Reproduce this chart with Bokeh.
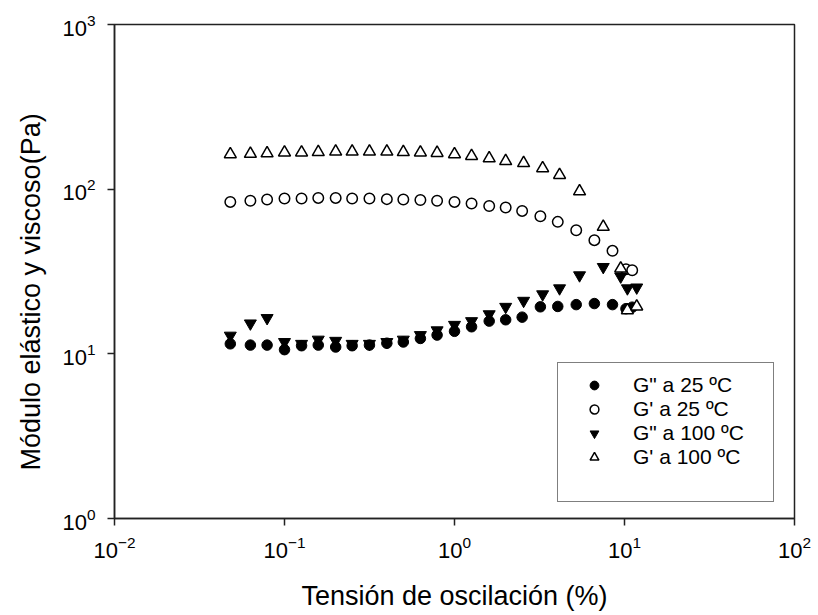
import math
from bokeh.plotting import figure
from bokeh.models import Range1d, Legend, LegendItem, Title
from bokeh.embed import file_html
from bokeh.resources import INLINE

# Strain (%) for each temperature series
strain_25 = [0.048, 0.063, 0.079, 0.1, 0.126, 0.158, 0.2, 0.25, 0.316, 0.4, 0.5, 0.63, 0.79,
             1.0, 1.26, 1.6, 2.0, 2.5, 3.2, 4.05, 5.2, 6.65, 8.5, 10.2, 11.1]
strain_100 = [0.048, 0.063, 0.079, 0.1, 0.126, 0.158, 0.2, 0.25, 0.316, 0.4, 0.5, 0.63, 0.79,
              1.0, 1.26, 1.6, 2.0, 2.55, 3.3, 4.15, 5.44, 7.5, 9.5, 10.4, 11.8]

# Moduli (Pa)
g2_25 = [11.5, 11.3, 11.3, 10.6, 11.2, 11.3, 11.0, 11.2, 11.3, 11.6, 11.8, 12.4, 13.0,
         13.7, 14.6, 15.8, 16.1, 16.7, 19.3, 19.4, 19.9, 20.2, 19.9, 18.8, 19.2]
g1_25 = [83.7, 85.0, 86.6, 87.8, 87.8, 88.5, 88.5, 87.8, 87.8, 87.0, 86.6, 86.0, 85.0,
         83.7, 81.9, 79.0, 77.4, 73.8, 68.5, 63.3, 56.3, 49.0, 42.2, 32.6, 32.2]
g2_100 = [12.9, 15.3, 16.5, 11.8, 11.5, 12.2, 12.0, 11.5, 11.5, 11.8, 12.2, 13.0, 13.9,
          15.0, 15.8, 17.4, 19.3, 21.0, 23.0, 25.0, 30.0, 33.7, 29.5, 25.0, 25.3]
g1_100 = [163, 164, 165, 167, 167, 168, 169, 169, 169, 169, 168, 167, 166,
          163, 159, 154, 148, 144, 134, 122, 97, 59, 33, 18.4, 19.4]

labels = ['G" a 25 ºC', "G' a 25 ºC", 'G" a 100 ºC', "G' a 100 ºC"]
x_ticks = [0.01, 0.1, 1, 10, 100]
y_ticks = [1, 10, 100, 1000]
x_title = "Tensión de oscilación (%)"
y_title = "Módulo elástico y viscoso(Pa)"

FONT = "Liberation Sans"

p = figure(width=818, height=615, x_axis_type="log", y_axis_type="log",
           x_range=Range1d(0.01, 100), y_range=Range1d(1, 1000),
           output_backend="svg", toolbar_location=None,
           min_border_left=114, min_border_right=24, min_border_top=24, min_border_bottom=97)
p.background_fill_color = "white"
p.border_fill_color = "white"
p.grid.visible = False
p.outline_line_color = "#222222"
p.outline_line_width = 1.5

for ax in (p.xaxis, p.yaxis):
    ax.axis_line_color = "#222222"
    ax.axis_line_width = 1.5
    ax.major_tick_line_color = "#222222"
    ax.major_tick_line_width = 1.5
    ax.major_tick_out = 7
    ax.major_tick_in = 0
    ax.minor_tick_line_color = None
    ax.major_label_text_font = FONT
    ax.major_label_text_font_size = "22px"
    ax.major_label_text_color = "black"
    ax.axis_label_text_font = FONT
    ax.axis_label_text_font_size = "27px"
    ax.axis_label_text_font_style = "normal"
    ax.axis_label_text_color = "black"

p.xaxis.ticker = x_ticks
p.yaxis.ticker = y_ticks
p.xaxis.axis_label = x_title
p.xaxis.major_label_standoff = 10
p.yaxis.major_label_standoff = 12
p.xaxis.axis_label_standoff = 20

# y-axis title: a left-side title, started a little above the frame bottom
p.add_layout(Title(text=y_title, align="left", offset=48, vertical_align="top", standoff=24,
                   text_font=FONT, text_font_size="27px", text_font_style="normal",
                   text_color="black"), "left")

r1 = p.scatter(strain_25, g2_25, marker="circle", size=10.5,
               fill_color="black", line_color="black", line_width=1)
r2 = p.scatter(strain_25, g1_25, marker="circle", size=10.5,
               fill_color="white", line_color="black", line_width=1.5)
r3 = p.scatter(strain_100, g2_100, marker="inverted_triangle", size=12,
               fill_color="black", line_color="black", line_width=1)
r4 = p.scatter(strain_100, g1_100, marker="triangle", size=12,
               fill_color="white", line_color="black", line_width=1.5)
spacer = p.scatter(x=[], y=[], marker="circle", size=1, fill_alpha=0, line_alpha=0)

legend = Legend(items=[
    LegendItem(label=labels[0], renderers=[r1]),
    LegendItem(label=labels[1], renderers=[r2]),
    LegendItem(label=labels[2], renderers=[r3]),
    LegendItem(label=labels[3], renderers=[r4]),
    LegendItem(label=" ", renderers=[spacer]),
])
legend.location = (443, 16)
legend.label_text_font = FONT
legend.label_text_font_size = "21px"
legend.label_text_color = "black"
legend.label_height = 22
legend.glyph_height = 22
legend.glyph_width = 52
legend.label_standoff = 13
legend.label_width = 130
legend.spacing = 0
legend.padding = 10
legend.margin = 0
legend.border_line_color = "black"
legend.border_line_width = 1.2
legend.background_fill_color = "white"
legend.background_fill_alpha = 1
p.add_layout(legend, "center")

open("out.html", "w").write(file_html(p, INLINE))
